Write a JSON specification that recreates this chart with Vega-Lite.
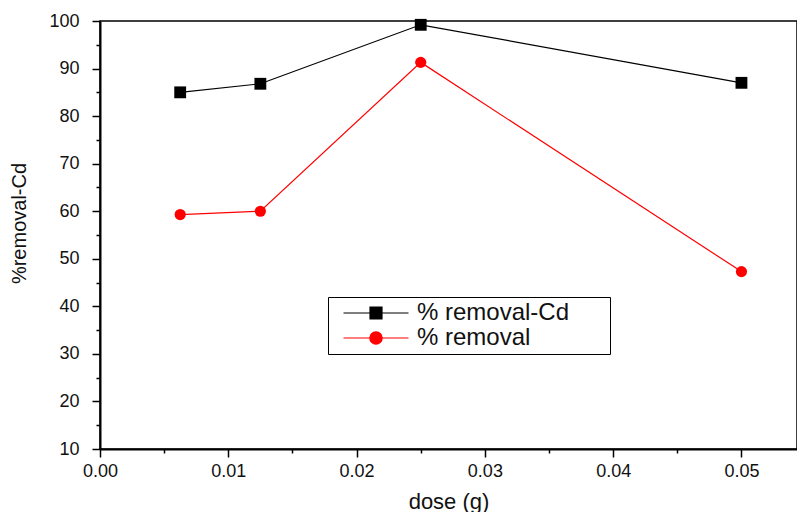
{
  "$schema": "https://vega.github.io/schema/vega-lite/v6.json",
  "width": 697,
  "height": 428,
  "autosize": "none",
  "padding": {"left": 100, "top": 21, "right": 0, "bottom": 63},
  "background": "white",
  "config": {
    "view": {"stroke": "black", "strokeWidth": 1.5},
    "font": "Liberation Sans"
  },
  "data": {
    "values": [
      {"dose": 0.00625, "value": 85.0, "series": "% removal-Cd"},
      {"dose": 0.0125, "value": 86.8, "series": "% removal-Cd"},
      {"dose": 0.025, "value": 99.2, "series": "% removal-Cd"},
      {"dose": 0.05, "value": 87.0, "series": "% removal-Cd"},
      {"dose": 0.00625, "value": 59.3, "series": "% removal"},
      {"dose": 0.0125, "value": 60.0, "series": "% removal"},
      {"dose": 0.025, "value": 91.3, "series": "% removal"},
      {"dose": 0.05, "value": 47.3, "series": "% removal"}
    ]
  },
  "encoding": {
    "x": {
      "field": "dose",
      "type": "quantitative",
      "scale": {"domain": [0, 0.05433], "nice": false, "zero": false},
      "axis": {
        "values": [0, 0.005, 0.01, 0.015, 0.02, 0.025, 0.03, 0.035, 0.04, 0.045, 0.05],
        "labelExpr": "round(datum.value*200) % 2 === 0 ? format(datum.value, '.2f') : ''",
        "tickSize": {"condition": {"test": "round(datum.value*200) % 2 === 0", "value": 8}, "value": 4},
        "tickWidth": 1.5,
        "tickColor": "black",
        "domainColor": "black",
        "domainWidth": 2,
        "grid": false,
        "labelFontSize": 18,
        "labelColor": "#111111",
        "labelPadding": 5,
        "labelFlush": false,
        "title": "dose (g)",
        "titleFontSize": 22,
        "titleFontWeight": "normal",
        "titleColor": "#111111",
        "titlePadding": 11
      }
    },
    "y": {
      "field": "value",
      "type": "quantitative",
      "scale": {"domain": [10, 100], "nice": false, "zero": false},
      "axis": {
        "values": [10, 15, 20, 25, 30, 35, 40, 45, 50, 55, 60, 65, 70, 75, 80, 85, 90, 95, 100],
        "labelExpr": "datum.value % 10 === 0 ? datum.label : ''",
        "tickSize": {"condition": {"test": "datum.value % 10 === 0", "value": 8}, "value": 4},
        "tickWidth": 1.5,
        "tickColor": "black",
        "domainColor": "black",
        "domainWidth": 2,
        "grid": false,
        "labelFontSize": 18,
        "labelColor": "#111111",
        "labelPadding": 13,
        "labelFlush": false,
        "title": "%removal-Cd",
        "titleFontSize": 20,
        "titleFontWeight": "normal",
        "titleColor": "#111111",
        "titlePadding": 19,
        "titleY": 202
      }
    },
    "color": {
      "field": "series",
      "type": "nominal",
      "scale": {"domain": ["% removal-Cd", "% removal"], "range": ["#000000", "#ff0000"]},
      "legend": {
        "title": null,
        "orient": "none",
        "legendX": 228,
        "legendY": 276,
        "strokeColor": "black",
        "fillColor": "white",
        "padding": 4,
        "labelFontSize": 24,
        "labelLimit": 0,
        "labelColor": "#111111",
        "labelFont": "Liberation Sans",
        "labelExpr": "datum.label + '\u2800\u2800'",
        "symbolSize": 169,
        "symbolStrokeWidth": 1.2,
        "symbolOffset": 32,
        "labelOffset": 29,
        "rowPadding": 1,
        "encode": {
          "symbols": {
            "update": {
              "shape": {"signal": "datum.value === '% removal-Cd' ? 'M-5,0H5M-0.92,-0.92H0.92V0.92H-0.92Z' : 'M-5,0H5M-0.95,0A0.95,0.95 0 1,0 0.95,0A0.95,0.95 0 1,0 -0.95,0Z'"},
              "fill": {"signal": "datum.value === '% removal-Cd' ? '#000000' : '#ff0000'"},
              "stroke": {"signal": "datum.value === '% removal-Cd' ? '#000000' : '#ff0000'"},
              "size": {"value": 169},
              "opacity": {"value": 1},
              "fillOpacity": {"value": 1},
              "strokeOpacity": {"value": 1}
            }
          }
        }
      }
    }
  },
  "layer": [
    {"mark": {"type": "line", "strokeWidth": 1.2}},
    {
      "transform": [{"filter": "datum.series === '% removal-Cd'"}],
      "mark": {"type": "point", "filled": true, "opacity": 1, "size": 140, "shape": "square"}
    },
    {
      "transform": [{"filter": "datum.series === '% removal'"}],
      "mark": {"type": "point", "filled": true, "opacity": 1, "size": 125, "shape": "circle"}
    }
  ]
}
